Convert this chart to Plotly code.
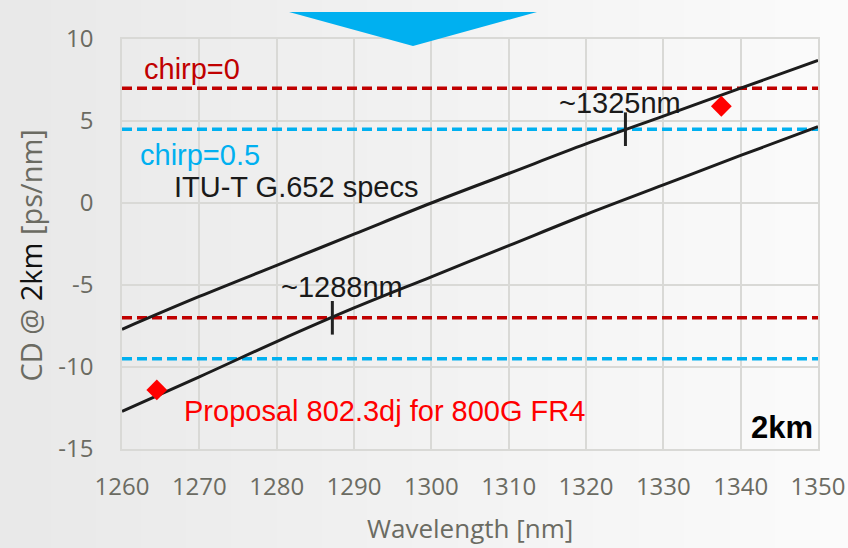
import plotly.graph_objects as go

# Wavelength grid (nm) and chromatic dispersion over 2 km (ps/nm)
wavelength = [1260, 1270, 1280, 1290, 1300, 1310, 1320, 1330, 1340, 1350]
cd_upper = [-7.7, -5.7, -3.8, -1.9, 0.0, 1.8, 3.6, 5.3, 7.0, 8.7]      # lambda0 = 1300 nm
cd_lower = [-12.7, -10.6, -8.45, -6.4, -4.5, -2.6, -0.7, 1.1, 2.9, 4.65]  # lambda0 = 1324 nm

# Chirp dispersion limits (ps/nm)
chirp0_limits = [7.0, -7.0]
chirp05_limits = [4.5, -9.5]
x_span = [1260, 1350]

# Crossing markers
cross_x = [1325.1, 1287.2]
cross_y = [4.5, -7.0]

# Proposal points
prop_x = [1264.5, 1337.5]
prop_y = [-11.4, 5.9]

# Axis ticks
x_ticks = [1260, 1270, 1280, 1290, 1300, 1310, 1320, 1330, 1340, 1350]
y_ticks = [-15, -10, -5, 0, 5, 10]
y_ticktext = ["-15", "-10", "-5", "0", "5", "10"]

GRID = "#d9d9d6"
AXIS_TXT = "#6b6b62"
TXT_FONT = "Liberation Sans, Arial, sans-serif"
AX_FONT = "Open Sans, sans-serif"

fig = go.Figure()

for v in chirp0_limits:
    fig.add_trace(go.Scatter(x=x_span, y=[v, v], mode="lines",
                             line=dict(color="#c00000", width=3.5, dash="10px,5px"),
                             hoverinfo="skip", showlegend=False))
for v in chirp05_limits:
    fig.add_trace(go.Scatter(x=x_span, y=[v, v], mode="lines",
                             line=dict(color="#00b0f0", width=3.5, dash="10px,5px"),
                             hoverinfo="skip", showlegend=False))

for ys in (cd_upper, cd_lower):
    fig.add_trace(go.Scatter(x=wavelength, y=ys, mode="lines",
                             line=dict(color="#1c1c1c", width=3, shape="spline"),
                             showlegend=False))

fig.add_trace(go.Scatter(x=cross_x, y=cross_y, mode="markers",
                         marker=dict(symbol="line-ns", size=24,
                                     line=dict(color="#222222", width=3)),
                         showlegend=False))

fig.add_trace(go.Scatter(x=prop_x, y=prop_y, mode="markers",
                         marker=dict(symbol="diamond", size=16, color="#ff0000",
                                     line=dict(width=0)),
                         showlegend=False))

# Soft horizontal background gradient
shapes = []
n = 40
x0, x1 = -0.2, 1.1
for i in range(n):
    t = i / (n - 1)
    g = int(233 + (252 - 233) * t)
    shapes.append(dict(type="rect", xref="paper", yref="paper",
                       x0=x0 + (x1 - x0) * i / n, x1=x0 + (x1 - x0) * (i + 1) / n + 0.002,
                       y0=-0.3, y1=1.2, fillcolor=f"rgb({g},{g},{g})",
                       line=dict(width=0), layer="below"))
# Blue arrow head at the top
shapes.append(dict(type="path", xref="paper", yref="paper",
                   path="M 0.240 1.066 L 0.5963 1.066 L 0.4181 0.983 Z",
                   fillcolor="#00b0f0", line=dict(width=0), layer="above"))

annotations = [
    dict(x=1262.6, y=8.2, text="chirp=0", font=dict(color="#c00000", size=29, family=TXT_FONT)),
    dict(x=1262.1, y=2.95, text="chirp=0.5", font=dict(color="#00b0f0", size=29, family=TXT_FONT)),
    dict(x=1266.5, y=1.0, text="ITU-T G.652 specs", font=dict(color="#1a1a1a", size=29, family=TXT_FONT)),
    dict(x=1316.3, y=6.1, text="~1325nm", font=dict(color="#1a1a1a", size=29, family=TXT_FONT)),
    dict(x=1280.3, y=-5.1, text="~1288nm", font=dict(color="#1a1a1a", size=29, family=TXT_FONT)),
    dict(x=1267.8, y=-12.7, text="Proposal 802.3dj for 800G FR4",
         font=dict(color="#ff0000", size=29, family=TXT_FONT)),
]
for a in annotations:
    a.update(xref="x", yref="y", xanchor="left", yanchor="middle", showarrow=False)
annotations.append(dict(x=1349.6, y=-13.7, xref="x", yref="y", text="<b>2km</b>",
                        xanchor="right", yanchor="middle", showarrow=False,
                        font=dict(color="#000000", size=31, family=TXT_FONT)))
# Axis titles
annotations.append(dict(x=0.5, y=-0.192, xref="paper", yref="paper",
                        text="Wavelength [nm]", showarrow=False,
                        xanchor="center", yanchor="middle",
                        font=dict(color=AXIS_TXT, size=26, family=AX_FONT)))
annotations.append(dict(x=-0.132, y=0.472, xref="paper", yref="paper",
                        text="CD @ <span style='color:#111111'>2km</span> [ps/nm]",
                        textangle=-90, showarrow=False,
                        xanchor="center", yanchor="middle",
                        font=dict(color=AXIS_TXT, size=29, family=AX_FONT)))

fig.update_layout(
    width=848, height=548,
    margin=dict(l=122, r=30, t=39, b=99, autoexpand=False),
    paper_bgcolor="#f1f1f1",
    plot_bgcolor="rgba(0,0,0,0)",
    shapes=shapes,
    annotations=annotations,
    showlegend=False,
)
fig.update_xaxes(range=[1260, 1350], tickvals=x_ticks, automargin=False,
                 showgrid=True, gridcolor=GRID, gridwidth=1.5,
                 showline=True, linecolor=GRID, linewidth=1.5, mirror=True,
                 zeroline=False, ticks="", ticklabelstandoff=15,
                 tickfont=dict(color=AXIS_TXT, size=24, family=AX_FONT))
fig.update_yaxes(range=[-15, 10], tickvals=y_ticks, ticktext=y_ticktext, automargin=False,
                 showgrid=True, gridcolor=GRID, gridwidth=1.5,
                 showline=True, linecolor=GRID, linewidth=1.5, mirror=True,
                 zeroline=False, ticks="", ticklabelstandoff=22,
                 tickfont=dict(color=AXIS_TXT, size=24, family=AX_FONT))

fig.write_html("out.html")
